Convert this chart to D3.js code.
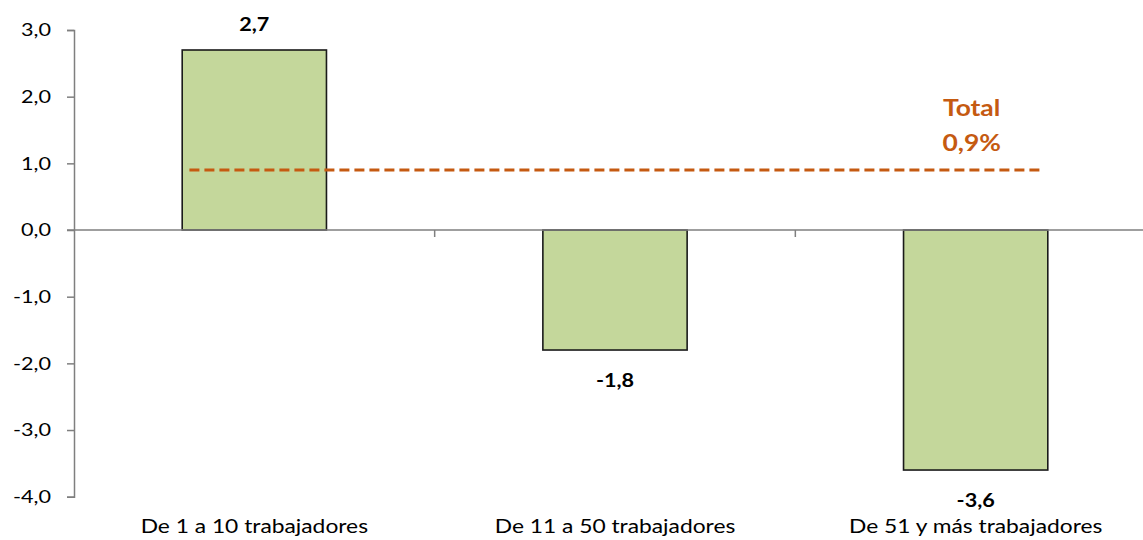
<!DOCTYPE html>
<html>
<head>
<meta charset="utf-8">
<script src="https://cdn.jsdelivr.net/npm/d3@7"></script>
<style>
  html, body { margin: 0; padding: 0; background: #fff; }
  svg { display: block; font-family: Lato, "Open Sans", sans-serif; }
</style>
</head>
<body>
<svg id="chart" width="1143" height="540"></svg>
<script>
// Variación por tamaño de empresa
const categories = ["De 1 a 10 trabajadores", "De 11 a 50 trabajadores", "De 51 y más trabajadores"];
const values = [2.7, -1.8, -3.6];
const valueLabels = ["2,7", "-1,8", "-3,6"];
const totalValue = 0.9;
const totalLabels = ["Total", "0,9%"];
const yTicks = [3, 2, 1, 0, -1, -2, -3, -4];
const yTickLabels = ["3,0", "2,0", "1,0", "0,0", "-1,0", "-2,0", "-3,0", "-4,0"];

const svg = d3.select("#chart");
const axisColor = "#7f7f7f";
const accent = "#C55A11";
const stretch = 1.2; // widen glyphs horizontally

const y = d3.scaleLinear().domain([-4, 3]).range([496.7, 30]);
const x = d3.scaleBand().domain(categories).range([74, 1156]).paddingInner(0.6).paddingOuter(0.3);

// Places a horizontally widened label at (cx, cy)
function placeText(sel, cx, cy) {
  sel.attr("x", 0).attr("y", 0)
    .attr("transform", (d, i) => `translate(${cx(d, i)},${cy(d, i)}) scale(${stretch},1)`);
}

// Vertical axis
const yAxis = d3.axisLeft(y)
  .tickValues(yTicks)
  .tickSize(7)
  .tickFormat((d, i) => yTickLabels[i]);
const gy = svg.append("g").attr("transform", "translate(74,0)").call(yAxis);
gy.select(".domain").attr("stroke", axisColor).attr("stroke-width", 1.5);
gy.selectAll(".tick line").attr("stroke", axisColor).attr("stroke-width", 1.5);
gy.selectAll(".tick text")
  .attr("fill", "#000")
  .attr("x", -23 / stretch)
  .attr("transform", `scale(${stretch},1)`)
  .style("font-size", "18px")
  .style("font-family", "Lato, 'Open Sans', sans-serif");

// Bars
svg.append("g").selectAll("rect")
  .data(values)
  .join("rect")
  .attr("x", (d, i) => x(categories[i]))
  .attr("width", x.bandwidth())
  .attr("y", d => y(Math.max(0, d)))
  .attr("height", d => Math.abs(y(d) - y(0)))
  .attr("fill", "#C4D79B")
  .attr("stroke", "#1a1a1a")
  .attr("stroke-width", 1.6);

// Horizontal axis through zero, ticks between categories
const xStep = x.step();
const xBoundaries = d3.range(categories.length + 1).map(i => 74 + i * xStep);
svg.append("line")
  .attr("x1", 67).attr("x2", xBoundaries[xBoundaries.length - 1])
  .attr("y1", y(0)).attr("y2", y(0))
  .attr("stroke", axisColor).attr("stroke-width", 1.5);
svg.append("g").selectAll("line")
  .data(xBoundaries.slice(1))
  .join("line")
  .attr("x1", d => d).attr("x2", d => d)
  .attr("y1", y(0)).attr("y2", y(0) + 7)
  .attr("stroke", axisColor).attr("stroke-width", 1.5);

// Category labels
svg.append("g").selectAll("text")
  .data(categories)
  .join("text")
  .call(placeText, d => x(d) + x.bandwidth() / 2, () => 533)
  .attr("text-anchor", "middle")
  .style("font-size", "19px")
  .attr("fill", "#000")
  .text(d => d);

// Value labels
svg.append("g").selectAll("text")
  .data(values)
  .join("text")
  .call(placeText, (d, i) => x(categories[i]) + x.bandwidth() / 2,
        d => d >= 0 ? y(d) - 19 : y(d) + 37)
  .attr("text-anchor", "middle")
  .style("font-size", "18px")
  .style("font-weight", "bold")
  .attr("fill", "#000")
  .text((d, i) => valueLabels[i]);

// Total reference line
const lineX1 = x(categories[0]) + x.bandwidth() * 0.05;
const lineX2 = x(categories[categories.length - 1]) + x.bandwidth() * 0.97;
svg.append("line")
  .attr("x1", lineX1).attr("x2", lineX2)
  .attr("y1", y(totalValue)).attr("y2", y(totalValue))
  .attr("stroke", accent)
  .attr("stroke-width", 3)
  .attr("stroke-dasharray", "10,5");

const totalX = x(categories[categories.length - 1]) + x.bandwidth() / 2 - 4;
svg.append("g").selectAll("text")
  .data(totalLabels)
  .join("text")
  .call(placeText, () => totalX, (d, i) => 116 + i * 35)
  .attr("text-anchor", "middle")
  .style("font-size", "22px")
  .style("font-weight", "bold")
  .attr("fill", accent)
  .text(d => d);
</script>
</body>
</html>
